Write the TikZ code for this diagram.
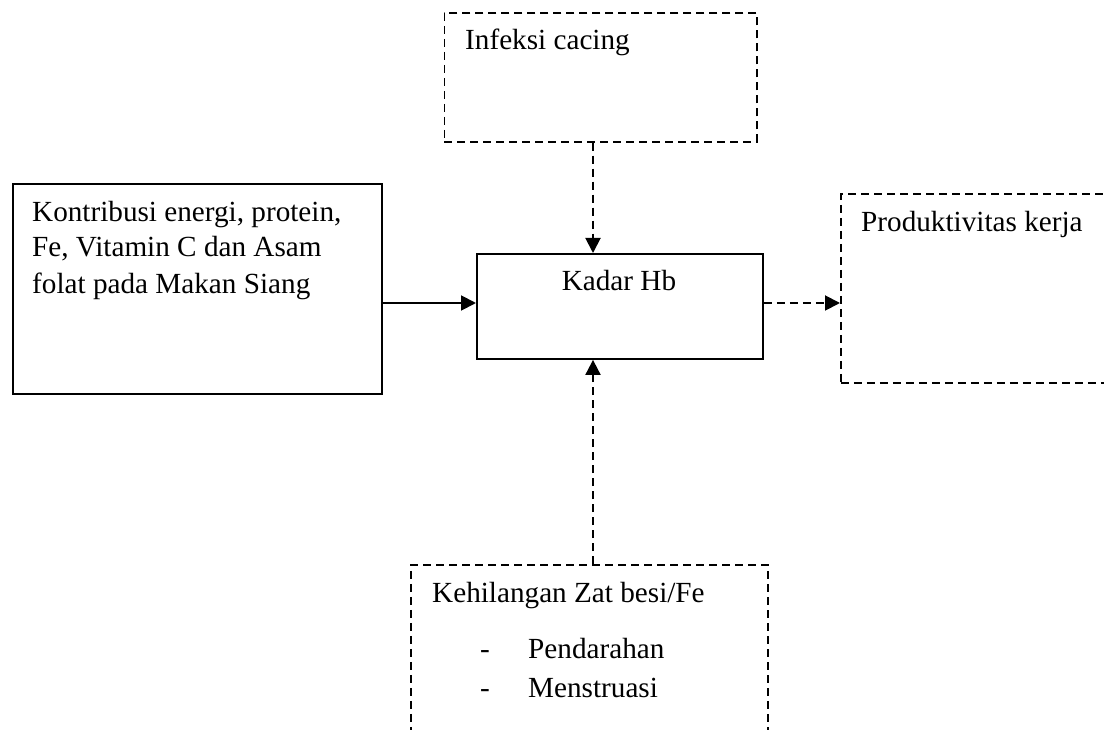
\documentclass[tikz,border=0pt]{standalone}
\usepackage{fontspec}
\setmainfont{Liberation Serif}
\usetikzlibrary{arrows.meta}
\tikzset{
  solidbox/.style={draw=black, line width=1.9pt, inner sep=0pt, anchor=north west},
  dashbox/.style={draw=black, line width=1.7pt, dash pattern=on 8pt off 5pt, inner sep=0pt, anchor=north west},
  txt/.style={anchor=base west, inner sep=0pt, font=\fontsize{29.2}{36}\selectfont},
  solidarrow/.style={line width=1.9pt, -{Triangle[length=15pt,width=15pt]}},
  dasharrow/.style={line width=1.9pt, dash pattern=on 8pt off 5pt, -{Triangle[length=15pt,width=15pt]}}
}
\begin{document}
\begin{tikzpicture}[x=1pt,y=-1pt]
\useasboundingbox (0,0) rectangle (1104,730);
\fill[white] (0,0) rectangle (1104,730);
\clip (0,0) rectangle (1104,730);
% boxes
\node[dashbox, minimum width=312.5pt, minimum height=129pt] (top) at (443.5,12) {};
\node[solidbox, minimum width=369pt, minimum height=210pt] (left) at (12,183) {};
\node[solidbox, minimum width=286pt, minimum height=105pt] (hb) at (476,253) {};
\node[dashbox, minimum width=290pt, minimum height=189pt] (right) at (840,193) {};
\node[dashbox, minimum width=357pt, minimum height=190pt] (bottom) at (410,564) {};
% texts
\node[txt] (t1) at (465,50) {Infeksi cacing};
\node[txt] (t2a) at (32,222) {Kontribusi energi, protein,};
\node[txt] (t2b) at (32,257) {Fe, Vitamin C dan Asam};
\node[txt] (t2c) at (32,294) {folat pada Makan Siang};
\node[txt, anchor=base] (t3) at (619,291) {Kadar Hb};
\node[txt] (t4) at (861,232) {Produktivitas kerja};
\node[txt] (t5) at (432,602) {Kehilangan Zat besi/Fe};
\node[txt] (d1) at (480,658) {-};
\node[txt] (t6) at (528,658) {Pendarahan};
\node[txt] (d2) at (480,697) {-};
\node[txt] (t7) at (528,697) {Menstruasi};
% connectors
\coordinate (ax) at (593,0);
\coordinate (ay) at (0,303);
\draw[dasharrow] (ax |- top.south) -- (ax |- hb.north);
\draw[solidarrow] (ay -| left.east) -- (ay -| hb.west);
\draw[dasharrow] (ay -| hb.east) -- (ay -| right.west);
\draw[dasharrow] (ax |- bottom.north) -- (ax |- hb.south);
\end{tikzpicture}
\end{document}
